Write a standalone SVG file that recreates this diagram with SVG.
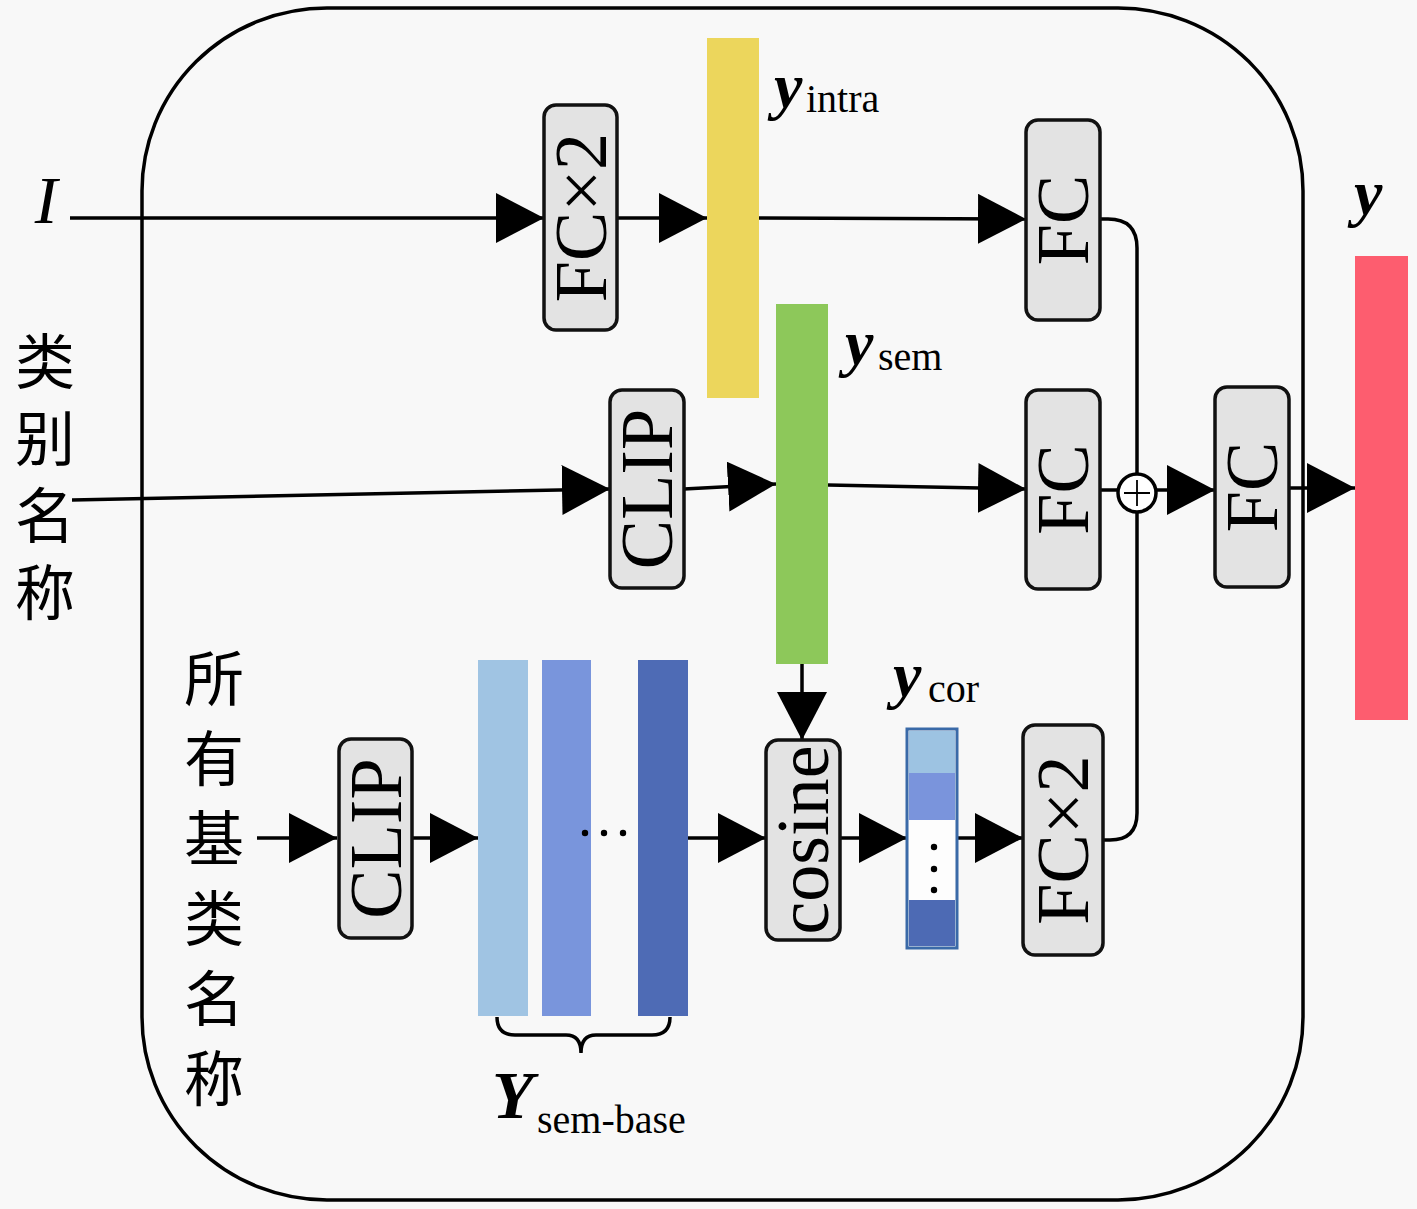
<svg xmlns="http://www.w3.org/2000/svg" width="1417" height="1209" viewBox="0 0 1417 1209">
<defs>
<marker id="ah" markerUnits="userSpaceOnUse" markerWidth="50" markerHeight="50" refX="48" refY="25" orient="auto" viewBox="0 0 50 50">
<path d="M0,0 L48,25 L0,50 Z" fill="#000"/>
</marker>
<style>
.node{fill:#e3e3e3;stroke:#111;stroke-width:3.5}
.nt{font-family:"Liberation Serif",serif;font-size:74px;fill:#000;text-anchor:middle;dominant-baseline:central}
.ln{fill:none;stroke:#000;stroke-width:3.5}
.arr{fill:none;stroke:#000;stroke-width:3.5;marker-end:url(#ah)}
.bv{font-family:"Liberation Serif",serif;font-style:italic;font-weight:bold;font-size:64px;fill:#000}
.sub{font-family:"Liberation Serif",serif;font-size:40px;fill:#000}
.cjk{font-family:"Noto Sans CJK SC","Noto Sans CJK JP",sans-serif;font-size:60px;fill:#000;writing-mode:vertical-rl}
</style>
</defs>
<rect x="0" y="0" width="1417" height="1209" fill="#f8f8f8"/>
<rect x="142" y="8" width="1161" height="1192" rx="185" ry="183" fill="none" stroke="#000" stroke-width="3.5"/>

<g id="connectors">
<path class="arr" d="M70 218 L544 218"/>
<path class="arr" d="M617 218 L707 218"/>
<path class="arr" d="M759 218 L1026 219"/>
<path class="ln" d="M1100 219 L1108 219 Q1137 219 1137 248 L1137 474"/>
<path class="arr" d="M72 500 L610 489"/>
<path class="arr" d="M684 489 L776 484"/>
<path class="arr" d="M828 485 L1026 489"/>
<path class="ln" d="M1100 490 L1118 490"/>
<path class="arr" d="M1156 490 L1215 490"/>
<path class="arr" d="M1289 488 L1355 488"/>
<path class="ln" d="M1103 840 L1110 840 Q1137 840 1137 813 L1137 512"/>
<path class="arr" d="M257 838 L337 838"/>
<path class="arr" d="M412 838 L478 838"/>
<path class="arr" d="M688 838 L766 838"/>
<path class="arr" d="M802 664 L802 740"/>
<path class="arr" d="M840 838 L907 838"/>
<path class="arr" d="M957 838 L1023 838"/>
</g>

<g id="input-I"><text x="46" y="223" font-family="Liberation Serif,serif" font-style="italic" font-size="68" text-anchor="middle">I</text></g>
<g id="input-class-name">
<text class="cjk" x="45" y="331" letter-spacing="17">类别名称</text>
</g>
<g id="input-all-base">
<text class="cjk" x="214" y="648" letter-spacing="20">所有基类名称</text>
</g>

<g id="fcx2-top"><rect class="node" x="544" y="105" width="73" height="225" rx="12"/><text class="nt" transform="rotate(-90 580.5 217.5)" x="580.5" y="217.5">FC×2</text></g>
<g id="y-intra"><rect x="707" y="38" width="52" height="360" fill="#ecd65c"/>
<text class="bv" x="774" y="107">y</text><text class="sub" x="806" y="112">intra</text></g>
<g id="fc-top"><rect class="node" x="1026" y="120" width="74" height="200" rx="12"/><text class="nt" transform="rotate(-90 1063 220)" x="1063" y="220">FC</text></g>
<g id="clip-mid"><rect class="node" x="610" y="390" width="74" height="198" rx="12"/><text class="nt" transform="rotate(-90 647 489)" x="647" y="489">CLIP</text></g>
<g id="y-sem"><rect x="776" y="304" width="52" height="360" fill="#8dc85a"/>
<text class="bv" x="845" y="364">y</text><text class="sub" x="878" y="370">sem</text></g>
<g id="fc-mid"><rect class="node" x="1026" y="390" width="74" height="199" rx="12"/><text class="nt" transform="rotate(-90 1063 489.5)" x="1063" y="489.5">FC</text></g>
<g id="sum"><circle cx="1137" cy="493" r="19" fill="#fff" stroke="#000" stroke-width="3.5"/><path d="M1124 493 H1150 M1137 480 V506" stroke="#000" stroke-width="1.8"/></g>
<g id="fc-right"><rect class="node" x="1215" y="387" width="74" height="200" rx="12"/><text class="nt" transform="rotate(-90 1252 487)" x="1252" y="487">FC</text></g>
<g id="y-out"><rect x="1355" y="256" width="53" height="464" fill="#fd5d6f"/><text class="bv" x="1354" y="214">y</text></g>

<g id="clip-bottom"><rect class="node" x="339" y="739" width="73" height="199" rx="12"/><text class="nt" transform="rotate(-90 375.5 838.5)" x="375.5" y="838.5">CLIP</text></g>
<g id="y-sem-base">
<rect x="478" y="660" width="50" height="356" fill="#a0c4e3"/>
<rect x="542" y="660" width="49" height="356" fill="#7995dc"/>
<rect x="638" y="660" width="50" height="356" fill="#4e6bb5"/>
<circle cx="585" cy="833" r="3.2" fill="#000"/><circle cx="604" cy="833" r="3.2" fill="#000"/><circle cx="623" cy="833" r="3.2" fill="#000"/>
<path class="ln" d="M497 1017 Q497 1035 515 1035 L566 1035 Q581 1035 581 1053 Q581 1035 596 1035 L652 1035 Q670 1035 670 1017" stroke-width="3"/>
<text x="492" y="1118" font-family="Liberation Serif,serif" font-style="italic" font-weight="bold" font-size="68">Y</text>
<text class="sub" x="537" y="1133">sem-base</text>
</g>
<g id="cosine"><rect class="node" x="766" y="740" width="74" height="200" rx="12"/><text class="nt" transform="rotate(-90 803 840)" x="803" y="840">cosine</text></g>
<g id="y-cor">
<rect x="907" y="729" width="50" height="219" fill="#f8f8f8" stroke="#3a6aa8" stroke-width="3"/>
<rect x="909" y="731" width="46" height="42" fill="#9dc3e2"/>
<rect x="909" y="773" width="46" height="47" fill="#7a94dc"/>
<rect x="909" y="820" width="46" height="80" fill="#fdfdfd"/>
<rect x="909" y="900" width="46" height="46" fill="#4d6ab4"/>
<circle cx="934" cy="847" r="3.2" fill="#000"/><circle cx="934" cy="869" r="3.2" fill="#000"/><circle cx="934" cy="890" r="3.2" fill="#000"/>
<text class="bv" x="893" y="696">y</text><text class="sub" x="928" y="702">cor</text>
</g>
<g id="fcx2-bottom"><rect class="node" x="1023" y="725" width="80" height="230" rx="12"/><text class="nt" transform="rotate(-90 1063 840)" x="1063" y="840">FC×2</text></g>
</svg>
